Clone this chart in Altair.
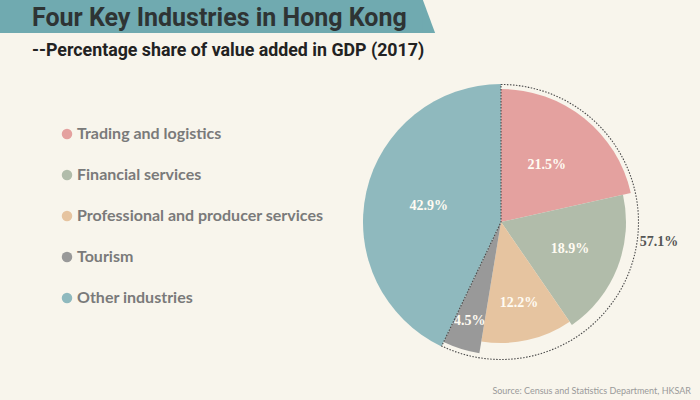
import altair as alt
import pandas as pd

# ---- data ----
categories = ["Trading and logistics", "Financial services",
              "Professional and producer services", "Tourism", "Other industries"]
shares = [21.5, 18.9, 12.2, 4.5, 42.9]
labels = ["21.5%", "18.9%", "12.2%", "4.5%", "42.9%"]

title_text = "Four Key Industries in Hong Kong"
subtitle_text = "--Percentage share of value added in GDP (2017)"
source_text = "Source: Census and Statistics Department, HKSAR"

# ---- styling ----
colors = ["#E4A19F", "#B1BCAA", "#E6C4A0", "#999999", "#8FB9BE"]
slice_radius = [133, 125, 121, 133, 138]
label_radius = [73, 74, 83, 104, 74]
BG = "#F8F5EC"
CX, CY = 501, 222

df = pd.DataFrame({
    "category": categories,
    "share": shares,
    "label": labels,
    "order": list(range(len(categories))),
    "r": slice_radius,
    "lr": label_radius,
})

theta_scale = alt.Scale(domain=[0, 100])
color_scale = alt.Scale(domain=categories, range=colors)

stacked = alt.Chart(df).transform_window(
    cum="sum(share)", sort=[alt.SortField("order")], frame=[None, 0]
).transform_calculate(
    start="datum.cum - datum.share", mid="datum.cum - datum.share / 2"
)

pie = stacked.mark_arc(strokeWidth=0).encode(
    theta=alt.Theta("start:Q", scale=theta_scale, stack=False),
    theta2="cum:Q",
    radius=alt.Radius("r:Q", scale=None),
    color=alt.Color("category:N", scale=color_scale, sort=categories,
                    legend=alt.Legend(orient="none", legendX=59, legendY=126, title=None,
                                      symbolType="circle", symbolSize=110,
                                      symbolStrokeWidth=0, labelFont="Lato",
                                      labelFontSize=16, labelFontWeight="bold",
                                      labelColor="#7A7A7A", rowPadding=25,
                                      labelOffset=2, padding=0, labelLimit=400)),
    x=alt.value(CX), y=alt.value(CY),
)

inner = stacked.mark_text(font="Liberation Serif", fontSize=14, fontWeight="bold",
                          color="#FFFBF2").encode(
    theta=alt.Theta("mid:Q", scale=theta_scale, stack=False),
    radius=alt.Radius("lr:Q", scale=None),
    text="label:N",
    x=alt.value(CX), y=alt.value(CY),
)

four = alt.Chart(df).transform_filter(
    alt.datum.category != "Other industries"
).transform_aggregate(total="sum(share)").transform_calculate(
    zero="0", half="datum.total / 2", lab="format(datum.total, '.1f') + '%'"
)

wedge = four.mark_arc(radius=137.5, fillOpacity=0, stroke="#4a4a4a",
                      strokeWidth=1.1, strokeDash=[1.5, 1.5]).encode(
    theta=alt.Theta("zero:Q", scale=theta_scale, stack=False),
    theta2="total:Q",
    x=alt.value(CX), y=alt.value(CY),
)

wedge_label = four.mark_text(radius=162, dy=-16, font="Liberation Serif", fontSize=14,
                             fontWeight="bold", color="#555555").encode(
    theta=alt.Theta("half:Q", scale=theta_scale, stack=False),
    text="lab:N",
    x=alt.value(CX), y=alt.value(CY),
)

txt = alt.Chart(pd.DataFrame({"title": [title_text], "subtitle": [subtitle_text],
                              "source": [source_text]}))

banner = txt.mark_rect(color="#70AAB0").encode(
    x=alt.value(0), x2=alt.value(423), y=alt.value(0), y2=alt.value(33))
banner_tip = txt.mark_point(filled=True, opacity=1, color="#70AAB0",
                            shape="M -0.37 -1 L 0.37 1 L -0.37 1 Z", size=1089,
                            strokeWidth=0).encode(
    x=alt.value(429), y=alt.value(16.5))

title = txt.mark_text(align="left", baseline="alphabetic", font="Roboto",
                      fontSize=25, fontWeight="bold", color="#2E3434").encode(
    text="title:N", x=alt.value(32), y=alt.value(26))
subtitle = txt.mark_text(align="left", baseline="alphabetic", font="Roboto",
                         fontSize=17.8, fontWeight="bold", color="#222222").encode(
    text="subtitle:N", x=alt.value(32), y=alt.value(56))
source = txt.mark_text(align="right", baseline="middle", font="Lato", fontSize=9,
                       color="#9A9A9A").encode(
    text="source:N", x=alt.value(691), y=alt.value(391))

chart = alt.layer(banner, banner_tip, title, subtitle, pie, inner, wedge, wedge_label,
                  source).properties(
    width=700, height=400, padding=0, autosize=alt.AutoSizeParams(type="none"),
    background=BG,
).configure_view(stroke=None)

chart.save("out.html", embed_options={"renderer": "svg", "actions": False})
